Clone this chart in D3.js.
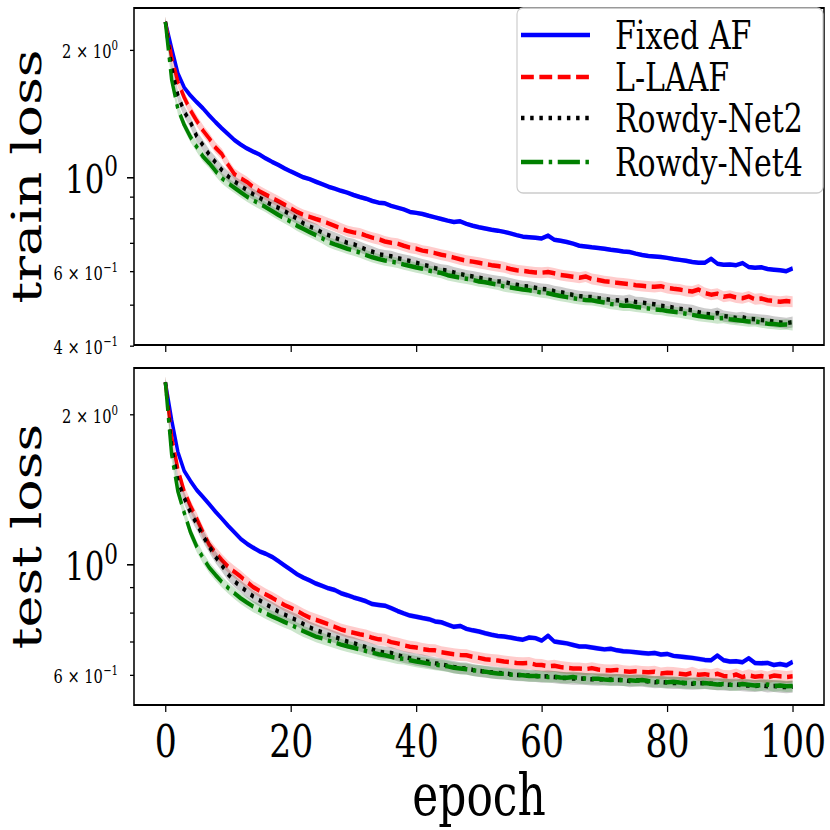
<!DOCTYPE html>
<html lang="en">
<head>
<meta charset="utf-8">
<title>train / test loss per epoch</title>
<script src="https://cdn.jsdelivr.net/npm/d3@7"></script>
<style>
  body { margin: 0; background: #fff; }
  text { font-family: "DejaVu Serif", serif; fill: #000; }
</style>
</head>
<body>
<script>
// ---- data ----
var epochs = d3.range(0, 101);
var seriesNames = ["Fixed AF", "L-LAAF", "Rowdy-Net2", "Rowdy-Net4"];
var xTicks = [0, 20, 40, 60, 80, 100];

var trainFixedAF = [2.33,2.02,1.76,1.63,1.56,1.505,1.455,1.40,1.35,1.305,
  1.265,1.225,1.195,1.17,1.15,1.132,1.108,1.088,1.07,1.05,
  1.032,1.016,1.0,0.99,0.976,0.963,0.95,0.94,0.929,0.92,
  0.908,0.898,0.89,0.879,0.871,0.868,0.856,0.848,0.84,0.828,
  0.824,0.819,0.811,0.804,0.797,0.79,0.784,0.787,0.776,0.768,
  0.762,0.757,0.752,0.748,0.743,0.737,0.73,0.724,0.722,0.72,
  0.717,0.728,0.712,0.708,0.703,0.697,0.689,0.686,0.683,0.681,
  0.678,0.674,0.671,0.668,0.666,0.66,0.655,0.652,0.65,0.648,
  0.645,0.641,0.638,0.635,0.631,0.628,0.628,0.642,0.625,0.621,
  0.622,0.62,0.627,0.614,0.611,0.613,0.607,0.605,0.603,0.6,
  0.609];
var trainLLAAF = [2.33,1.92,1.68,1.545,1.44,1.36,1.29,1.235,1.175,1.135,
  1.07,1.018,0.995,0.975,0.948,0.927,0.91,0.894,0.878,0.862,
  0.845,0.828,0.815,0.806,0.797,0.789,0.778,0.768,0.757,0.747,
  0.741,0.737,0.728,0.72,0.714,0.705,0.7,0.697,0.689,0.682,
  0.678,0.671,0.667,0.662,0.656,0.652,0.646,0.64,0.635,0.632,
  0.628,0.624,0.62,0.617,0.613,0.607,0.603,0.601,0.598,0.596,
  0.595,0.597,0.593,0.588,0.585,0.582,0.579,0.583,0.575,0.572,
  0.568,0.566,0.563,0.561,0.559,0.556,0.554,0.552,0.551,0.553,
  0.548,0.545,0.543,0.539,0.537,0.543,0.533,0.528,0.531,0.522,
  0.525,0.52,0.518,0.523,0.515,0.517,0.512,0.51,0.508,0.51,
  0.508];
var trainRowdy2 = [2.33,1.82,1.56,1.43,1.35,1.25,1.19,1.13,1.085,1.04,
  1.005,0.978,0.955,0.932,0.912,0.895,0.876,0.86,0.847,0.832,
  0.815,0.798,0.778,0.765,0.755,0.74,0.73,0.72,0.71,0.7,
  0.695,0.685,0.675,0.667,0.658,0.654,0.651,0.644,0.639,0.634,
  0.628,0.622,0.617,0.61,0.605,0.602,0.596,0.591,0.586,0.583,
  0.579,0.575,0.571,0.568,0.566,0.561,0.557,0.553,0.552,0.548,
  0.545,0.543,0.538,0.535,0.531,0.527,0.524,0.522,0.521,0.518,
  0.516,0.513,0.512,0.51,0.513,0.507,0.506,0.503,0.501,0.497,
  0.495,0.492,0.489,0.487,0.485,0.48,0.476,0.474,0.478,0.47,
  0.468,0.465,0.467,0.463,0.462,0.46,0.459,0.456,0.454,0.452,
  0.455];
var trainRowdy4 = [2.33,1.70,1.45,1.33,1.245,1.18,1.12,1.08,1.035,0.995,
  0.968,0.945,0.922,0.9,0.882,0.866,0.85,0.832,0.815,0.8,
  0.785,0.768,0.755,0.742,0.73,0.718,0.703,0.694,0.686,0.678,
  0.671,0.664,0.655,0.647,0.641,0.636,0.632,0.628,0.622,0.617,
  0.612,0.608,0.602,0.598,0.594,0.587,0.583,0.579,0.576,0.572,
  0.567,0.565,0.561,0.557,0.552,0.549,0.546,0.543,0.541,0.537,
  0.534,0.532,0.528,0.524,0.521,0.518,0.515,0.513,0.512,0.509,
  0.506,0.502,0.5,0.497,0.497,0.494,0.492,0.49,0.487,0.486,
  0.483,0.481,0.479,0.476,0.473,0.47,0.468,0.466,0.464,0.465,
  0.462,0.46,0.458,0.456,0.457,0.454,0.451,0.45,0.448,0.449,
  0.447];

var testFixedAF = [2.32,1.95,1.68,1.54,1.47,1.41,1.365,1.32,1.275,1.235,
  1.195,1.16,1.125,1.1,1.08,1.062,1.05,1.035,1.015,0.995,
  0.975,0.955,0.94,0.928,0.915,0.905,0.895,0.888,0.875,0.867,
  0.858,0.851,0.843,0.832,0.829,0.826,0.817,0.806,0.797,0.789,
  0.785,0.78,0.776,0.768,0.765,0.757,0.749,0.752,0.742,0.737,
  0.733,0.727,0.722,0.718,0.716,0.713,0.709,0.706,0.713,0.711,
  0.703,0.719,0.7,0.697,0.694,0.689,0.684,0.684,0.681,0.678,
  0.675,0.677,0.672,0.669,0.668,0.666,0.664,0.662,0.664,0.659,
  0.661,0.655,0.653,0.651,0.649,0.646,0.643,0.642,0.656,0.642,
  0.638,0.639,0.636,0.648,0.634,0.633,0.634,0.628,0.631,0.627,
  0.637];
var testLLAAF = [2.32,1.80,1.55,1.40,1.31,1.235,1.16,1.095,1.055,1.02,
  0.99,0.966,0.945,0.922,0.9,0.885,0.87,0.857,0.843,0.828,
  0.818,0.806,0.793,0.782,0.774,0.766,0.758,0.749,0.74,0.734,
  0.729,0.724,0.72,0.712,0.707,0.706,0.698,0.694,0.688,0.683,
  0.681,0.676,0.673,0.672,0.666,0.663,0.66,0.658,0.657,0.652,
  0.649,0.645,0.643,0.641,0.638,0.636,0.634,0.633,0.634,0.629,
  0.628,0.624,0.626,0.622,0.62,0.618,0.618,0.616,0.619,0.615,
  0.613,0.612,0.614,0.61,0.609,0.61,0.608,0.607,0.609,0.604,
  0.606,0.605,0.603,0.601,0.606,0.6,0.602,0.599,0.603,0.597,
  0.596,0.601,0.594,0.599,0.595,0.597,0.593,0.598,0.596,0.594,
  0.596];
var testRowdy2 = [2.32,1.72,1.47,1.36,1.27,1.205,1.14,1.085,1.035,0.995,
  0.955,0.925,0.903,0.882,0.862,0.847,0.832,0.818,0.804,0.793,
  0.782,0.772,0.759,0.747,0.738,0.73,0.722,0.715,0.707,0.7,
  0.695,0.688,0.682,0.675,0.668,0.665,0.664,0.657,0.652,0.648,
  0.644,0.641,0.637,0.633,0.63,0.626,0.622,0.619,0.618,0.614,
  0.611,0.609,0.607,0.605,0.604,0.602,0.6,0.599,0.598,0.597,
  0.595,0.596,0.594,0.592,0.591,0.59,0.59,0.589,0.588,0.587,
  0.588,0.587,0.586,0.586,0.583,0.585,0.584,0.582,0.58,0.581,
  0.579,0.578,0.578,0.577,0.576,0.577,0.578,0.576,0.575,0.574,
  0.573,0.574,0.572,0.571,0.57,0.572,0.569,0.57,0.568,0.567,
  0.568];
var testRowdy4 = [2.32,1.66,1.40,1.27,1.16,1.085,1.03,0.985,0.952,0.922,
  0.897,0.875,0.855,0.838,0.823,0.81,0.797,0.786,0.776,0.766,
  0.757,0.745,0.734,0.725,0.716,0.71,0.703,0.697,0.69,0.685,
  0.68,0.675,0.67,0.665,0.66,0.657,0.652,0.648,0.646,0.642,
  0.638,0.635,0.632,0.629,0.627,0.624,0.62,0.618,0.616,0.613,
  0.611,0.609,0.606,0.604,0.603,0.601,0.6,0.599,0.597,0.597,
  0.596,0.594,0.595,0.593,0.592,0.594,0.591,0.59,0.589,0.589,
  0.587,0.586,0.587,0.585,0.585,0.584,0.586,0.583,0.582,0.581,
  0.58,0.581,0.579,0.578,0.578,0.577,0.578,0.576,0.574,0.575,
  0.573,0.572,0.575,0.573,0.571,0.572,0.574,0.57,0.571,0.569,
  0.57];

// half width of the shaded band, as a fraction of the mean
var trainSpread = [0.012, 0.03, 0.03, 0.028];
var testSpread = [0.012, 0.028, 0.028, 0.026];

// ---- look ----
var colors = ["#0000ff", "#ff0000", "#000000", "#008000"];
var LW = 4.5;
var dashes = [null,
  [3.7 * LW, 1.6 * LW],
  [1 * LW, 1.65 * LW],
  [6.4 * LW, 1.6 * LW, 1 * LW, 1.6 * LW]];

var w = 830, h = 830;
// the reference picture is squeezed sideways, so draw wide and squeeze the lot
var SX = 0.77;
function sx(px) { return px / SX; }

var svg = d3.select("body").append("svg")
  .attr("width", w)
  .attr("height", h);
var root = svg.append("g").attr("transform", "scale(" + SX + ",1)");

var left = sx(134), right = sx(824);
var xScale = d3.scaleLinear().domain([-5, 105]).range([left, right]);

var panels = [
  { label: "train loss", top: 8, bottom: 345, domain: [0.4015, 2.512],
    series: [trainFixedAF, trainLLAAF, trainRowdy2, trainRowdy4], spread: trainSpread,
    xLabels: false, legend: true },
  { label: "test loss", top: 368, bottom: 705, domain: [0.522, 2.477],
    series: [testFixedAF, testLLAAF, testRowdy2, testRowdy4], spread: testSpread,
    xLabels: true, legend: false }
];

var minorValues = [0.4, 0.5, 0.6, 0.7, 0.8, 0.9, 2];
// tick labels: [value, mantissa text, exponent, big?]
var yLabels = [[2, "2 \u00d7 10", "0", false], [1, "10", "0", true],
               [0.6, "6 \u00d7 10", "\u22121", false], [0.4, "4 \u00d7 10", "\u22121", false]];

function inView(v, dom) { return v >= dom[0] * 0.99 && v <= dom[1]; }

panels.forEach(function(p) {
  var yScale = d3.scaleLog().domain(p.domain).range([p.bottom, p.top]);
  var g = root.append("g");

  // shaded bands + lines
  p.series.forEach(function(vals, i) {
    var s = p.spread[i];
    var area = d3.area()
      .x(function(d, k) { return xScale(epochs[k]); })
      .y0(function(d) { return yScale(d * (1 - s)); })
      .y1(function(d) { return yScale(d * (1 + s)); });
    g.append("path")
      .attr("d", area(vals))
      .attr("fill", colors[i])
      .attr("fill-opacity", 0.2)
      .attr("stroke", "none");

    var line = d3.line()
      .x(function(d, k) { return xScale(epochs[k]); })
      .y(function(d) { return yScale(d); });
    g.append("path")
      .attr("d", line(vals))
      .attr("fill", "none")
      .attr("stroke", colors[i])
      .attr("stroke-width", LW)
      .attr("stroke-linejoin", "round")
      .attr("stroke-dasharray", dashes[i] ? dashes[i].join(",") : null);
  });

  // x axis
  var xAxis = d3.axisBottom(xScale).tickValues(xTicks).tickSize(7).tickPadding(0);
  if (!p.xLabels) xAxis.tickFormat("");
  var xa = g.append("g")
    .attr("transform", "translate(0," + p.bottom + ")")
    .call(xAxis);
  xa.select(".domain").remove();
  xa.selectAll("line").attr("stroke-width", 1.6);
  xa.selectAll("text")
    .attr("dy", null)
    .attr("y", 52)
    .style("font-family", "DejaVu Serif")
    .style("font-size", "45px");

  // y axis, minor + major ticks
  var minor = minorValues.filter(function(v) { return inView(v, p.domain); });
  var ya = g.append("g").attr("transform", "translate(" + left + ",0)")
    .call(d3.axisLeft(yScale).tickValues(minor).tickSize(sx(4)).tickFormat(""));
  ya.select(".domain").remove();
  ya.selectAll("line").attr("stroke-width", 1.3);
  var yb = g.append("g").attr("transform", "translate(" + left + ",0)")
    .call(d3.axisLeft(yScale).tickValues([1]).tickSize(sx(7)).tickFormat(""));
  yb.select(".domain").remove();
  yb.selectAll("line").attr("stroke-width", 1.6);

  yLabels.forEach(function(t) {
    if (!inView(t[0], p.domain)) return;
    var big = t[3];
    var fs = big ? 40 : 19;
    var txt = g.append("text")
      .attr("x", sx(118))
      .attr("y", yScale(t[0]) + (big ? 16 : 8.5))
      .attr("text-anchor", "end")
      .style("font-size", fs + "px");
    txt.append("tspan").text(t[1]);
    txt.append("tspan")
      .attr("dy", -0.42 * fs)
      .style("font-size", (fs * 0.7) + "px")
      .text(t[2]);
  });

  // frame
  g.append("rect")
    .attr("x", left)
    .attr("y", p.top)
    .attr("width", right - left)
    .attr("height", p.bottom - p.top)
    .attr("fill", "none")
    .attr("stroke", "#000")
    .attr("stroke-width", 2);

  // y label
  g.append("text")
    .attr("transform", "translate(" + sx(40.5) + "," + ((p.top + p.bottom) / 2) + ") rotate(-90)")
    .attr("text-anchor", "middle")
    .style("font-size", "54px")
    .text(p.label);

  // legend
  if (p.legend) {
    var lg = g.append("g");
    lg.append("rect")
      .attr("x", sx(517))
      .attr("y", 8)
      .attr("width", sx(823) - sx(517))
      .attr("height", 185)
      .attr("rx", 8)
      .attr("ry", 6)
      .attr("fill", "#fff")
      .attr("fill-opacity", 0.8)
      .attr("stroke", "#cccccc")
      .attr("stroke-width", 1.5);
    var rows = [35, 77, 118, 162];
    seriesNames.forEach(function(name, i) {
      lg.append("line")
        .attr("x1", sx(521)).attr("x2", sx(590))
        .attr("y1", rows[i]).attr("y2", rows[i])
        .attr("stroke", colors[i])
        .attr("stroke-width", LW)
        .attr("stroke-dasharray", dashes[i] ? dashes[i].join(",") : null);
      lg.append("text")
        .attr("x", sx(615))
        .attr("y", rows[i] + 14)
        .style("font-size", "39px")
        .text(name);
    });
  }
});

// x label
root.append("text")
  .attr("x", (left + right) / 2)
  .attr("y", 815)
  .attr("text-anchor", "middle")
  .style("font-size", "57px")
  .text("epoch");
</script>
</body>
</html>
